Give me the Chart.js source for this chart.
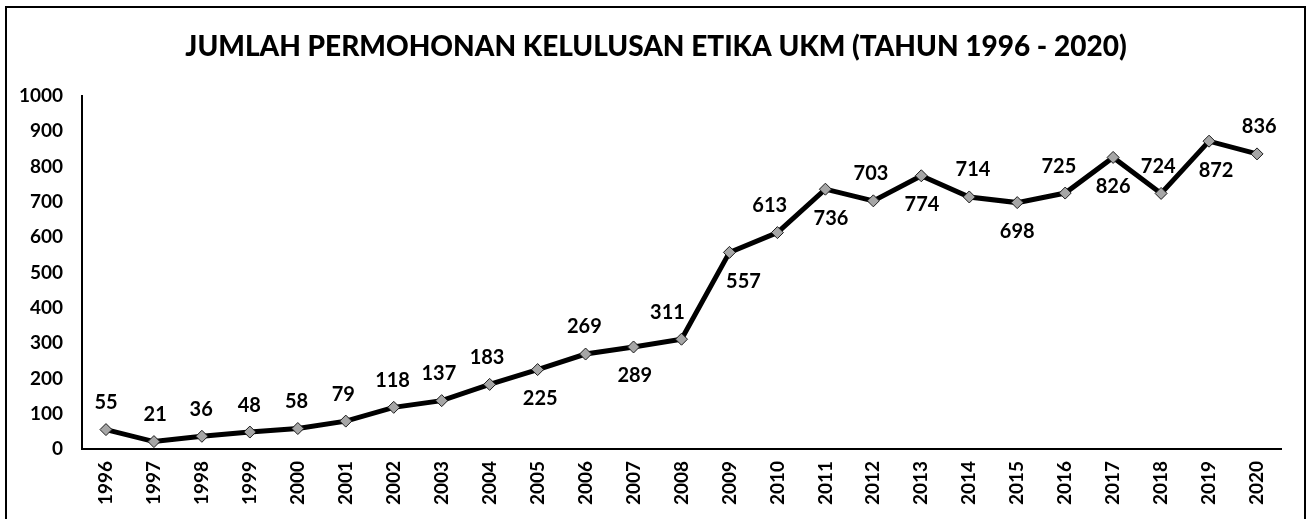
<!DOCTYPE html>
<html>
<head>
<meta charset="utf-8">
<script src="https://cdn.jsdelivr.net/npm/chart.js@4.4.0/dist/chart.umd.min.js"></script>
<style>
  html, body { margin: 0; padding: 0; background: #fff; }
  #wrap { position: relative; width: 1312px; height: 519px; }
</style>
</head>
<body>
<div id="wrap"><canvas id="c" width="1312" height="519"></canvas></div>
<script>
const chartTitle = 'JUMLAH PERMOHONAN KELULUSAN ETIKA UKM (TAHUN 1996 - 2020)';
const years = ['1996','1997','1998','1999','2000','2001','2002','2003','2004','2005','2006','2007','2008','2009','2010','2011','2012','2013','2014','2015','2016','2017','2018','2019','2020'];
const applications = [55,21,36,48,58,79,118,137,183,225,269,289,311,557,613,736,703,774,714,698,725,826,724,872,836];
const labelSide = ['up','up','up','up','up','up','up','up','up','down','up','down','up','down','up','down','up','down','up','down','up','down','up','down','up'];
const yMin = 0, yMax = 1000, yStep = 100;

const FONT = 'Lato, "Open Sans", "Liberation Sans", sans-serif';

const framePlugin = {
  id: 'frame',
  afterDraw(chart) {
    const ctx = chart.ctx;
    ctx.save();
    ctx.strokeStyle = '#000';
    ctx.lineWidth = 2;
    ctx.strokeRect(6, 7, 1299, 520);
    ctx.fillStyle = '#000';
    ctx.font = '900 28px ' + FONT;
    ctx.textAlign = 'center';
    ctx.textBaseline = 'middle';
    ctx.fillText(chartTitle, 656, 47);
    ctx.restore();
  }
};

const labelPlugin = {
  id: 'pointLabels',
  afterDatasetsDraw(chart) {
    const ctx = chart.ctx;
    const meta = chart.getDatasetMeta(0);
    const n = applications.length;
    ctx.save();
    ctx.fillStyle = '#000';
    ctx.font = 'bold 20px ' + FONT;
    ctx.textAlign = 'center';
    ctx.textBaseline = 'middle';
    meta.data.forEach((pt, i) => {
      const cur = applications[i];
      const prev = i > 0 ? applications[i - 1] : cur;
      const next = i < n - 1 ? applications[i + 1] : cur;
      let dx = 0;
      let dy;
      if (labelSide[i] === 'up') {
        dy = -27;
        const riseRight = Math.max(next - cur, 0);
        const fallLeft = Math.max(prev - cur, 0);
        dx = -Math.min(riseRight / 16, 14) + Math.min(fallLeft / 16, 14);
      } else {
        dy = 29;
        const riseLeft = Math.max(cur - prev, 0);
        const fallRight = Math.max(cur - next, 0);
        dx = Math.min(riseLeft / 16, 14) - Math.min(fallRight / 16, 14);
      }
      ctx.fillText(String(cur), pt.x + dx, pt.y + dy);
    });
    ctx.restore();
  }
};

new Chart(document.getElementById('c'), {
  type: 'line',
  data: {
    labels: years,
    datasets: [{
      data: applications,
      borderColor: '#000',
      borderWidth: 5,
      tension: 0,
      pointStyle: 'rectRot',
      pointRadius: 6,
      pointHoverRadius: 6,
      pointBackgroundColor: '#a6a6a6',
      pointBorderColor: '#1a1a1a',
      pointBorderWidth: 1
    }]
  },
  options: {
    responsive: false,
    animation: false,
    events: [],
    layout: { padding: { left: 6, right: 31, top: 96, bottom: 0 } },
    plugins: { legend: { display: false }, tooltip: { enabled: false }, title: { display: false } },
    scales: {
      x: {
        offset: true,
        grid: { display: false, drawTicks: false },
        border: { display: true, color: '#000', width: 2 },
        ticks: {
          color: '#000',
          font: { family: FONT, size: 19, weight: 'bold' },
          minRotation: 90, maxRotation: 90,
          padding: 12,
          autoSkip: false
        },
        afterFit(scale) { scale.height = 70; }
      },
      y: {
        min: yMin, max: yMax,
        grid: { display: false, drawTicks: false },
        border: { display: true, color: '#000', width: 2 },
        ticks: {
          stepSize: yStep,
          color: '#000',
          font: { family: FONT, size: 19, weight: 'bold' },
          padding: 19,
          callback: (v) => String(v)
        },
        afterFit(scale) { scale.width = 76; }
      }
    }
  },
  plugins: [framePlugin, labelPlugin]
});
</script>
</body>
</html>
